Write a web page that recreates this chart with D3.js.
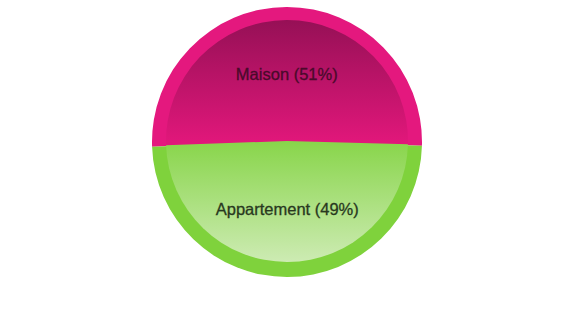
<!DOCTYPE html>
<head>
    <script src="https://d3js.org/d3.v7.min.js"></script>
    <style>
body {
  margin: 0;
  background: #fff;
  font-family: "Liberation Sans", Arial, sans-serif;
}
</style>
</head>
<body>
    <svg></svg>
</body>

<script>
    var categories = ["Maison", "Appartement"];
    var values = [51, 49];
    var ringColors = ["#e4187e", "#7fd23c"];
    var topColors = ["#961056", "#88d54a"];
    var bottomColors = ["#e0177a", "#cdebb3"];
    var labelColors = ["#4a0a2b", "#283820"];

    var width = 562;
    var height = 326;
    var cx = 287, cy = 142;
    var outerR = 135;
    var innerR = 121;

    var svg = d3.select('svg')
        .attr('width', width)
        .attr('height', height);

    var defs = svg.append('defs');
    // vertical gradient per slice, in the slice's local coords (centre = 0)
    var gradY = [[-innerR, 0], [0, innerR]];
    categories.forEach(function (c, i) {
        var lg = defs.append('linearGradient')
            .attr('id', 'grad' + i)
            .attr('gradientUnits', 'userSpaceOnUse')
            .attr('x1', 0).attr('x2', 0)
            .attr('y1', gradY[i][0]).attr('y2', gradY[i][1]);
        lg.append('stop').attr('offset', '0%').attr('stop-color', topColors[i]);
        lg.append('stop').attr('offset', '100%').attr('stop-color', bottomColors[i]);
    });

    var data = categories.map(function (c, i) { return { name: c, value: values[i], i: i }; });

    var pie = d3.pie()
        .sort(null)
        .value(function (d) { return d.value; })
        .startAngle(-Math.PI / 2 - 0.035)
        .endAngle(3 * Math.PI / 2 - 0.035);

    var arcs = pie(data);

    var outerArc = d3.arc().innerRadius(0).outerRadius(outerR);
    var innerArc = d3.arc().innerRadius(0).outerRadius(innerR);
    var labelArc = d3.arc().innerRadius(0).outerRadius(outerR);

    var g = svg.append('g')
        .attr('transform', 'translate(' + cx + ',' + cy + ')');

    // outer bevel ring
    g.selectAll('path.ring')
        .data(arcs)
        .enter().append('path')
        .attr('class', 'ring')
        .attr('d', outerArc)
        .style('fill', function (d) { return ringColors[d.data.i]; });

    // inner shaded disk
    svg.append('g')
        .attr('transform', 'translate(' + cx + ',' + (cy - 1) + ')')
        .selectAll('path.inner')
        .data(arcs)
        .enter().append('path')
        .attr('class', 'inner')
        .attr('d', innerArc)
        .style('fill', function (d) { return 'url(#grad' + d.data.i + ')'; });

    var total = d3.sum(values);
    svg.append('g')
        .attr('transform', 'translate(' + cx + ',' + cy + ')')
        .selectAll('text')
        .data(arcs)
        .enter().append('text')
        .attr('transform', function (d) { return 'translate(' + labelArc.centroid(d) + ')'; })
        .attr('text-anchor', 'middle')
        .attr('dy', '.35em')
        .style('font-size', '16.5px')
        .style('fill', function (d) { return labelColors[d.data.i]; })
        .style('stroke', function (d) { return labelColors[d.data.i]; })
        .style('stroke-width', '0.3px')
        .text(function (d) { return d.data.name + ' (' + Math.round(d.data.value / total * 100) + '%)'; });
</script>
